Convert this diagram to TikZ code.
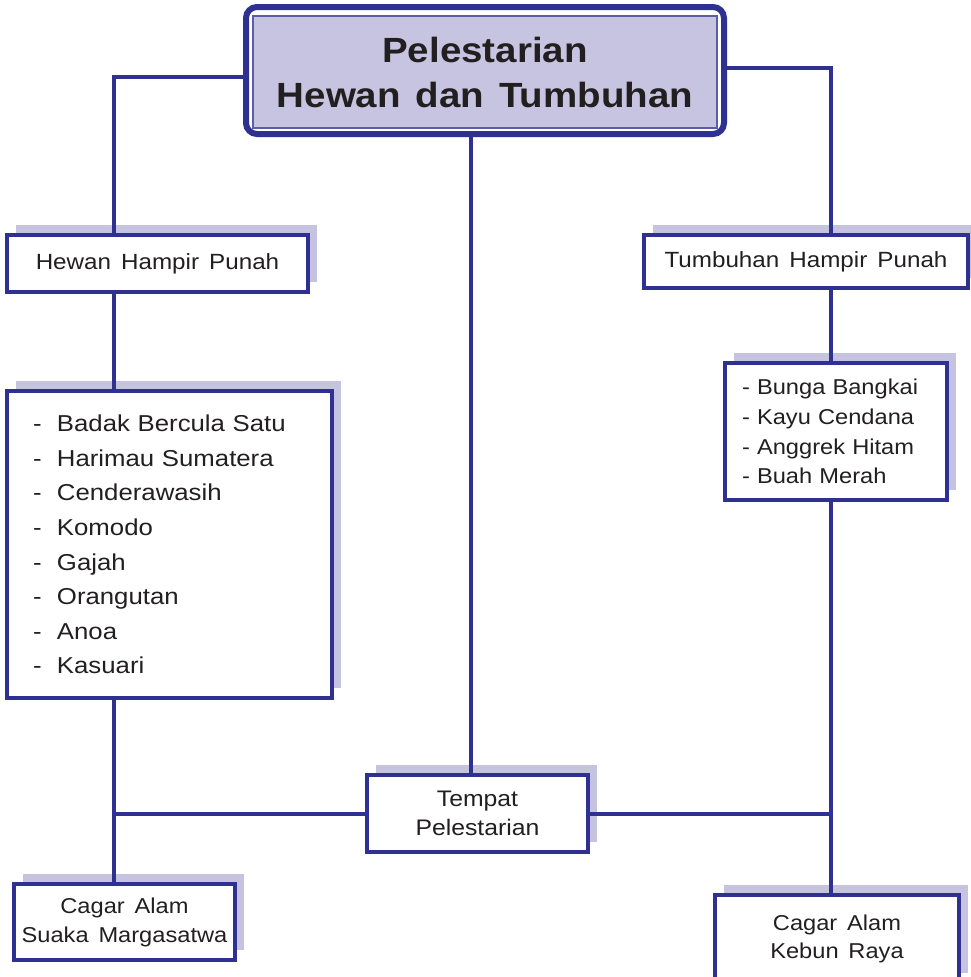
\documentclass[tikz,border=0pt]{standalone}
\usepackage{fontspec}
\setmainfont{Liberation Sans}
\newfontfamily\bodyf[FakeStretch=1.1,WordSpace=1.5]{Liberation Sans}
\newfontfamily\listf[FakeStretch=1.12]{Liberation Sans}
\newfontfamily\titlef[FakeStretch=1.1,WordSpace=1.4]{Liberation Sans Bold}
\usetikzlibrary{shadows}
\definecolor{navy}{HTML}{2E3192}
\definecolor{shade}{HTML}{C5C3E0}
\definecolor{titlefill}{HTML}{C6C4E1}
\definecolor{innerline}{HTML}{5B5EA6}
\definecolor{ink}{HTML}{231F20}
\tikzset{
  box/.style={draw=navy, line width=3.5pt, fill=white, inner sep=0pt, text=ink,
    align=center,
    drop shadow={shadow xshift=9pt, shadow yshift=10pt, fill=shade, opacity=1}},
  conn/.style={draw=navy, line width=4pt},
  titleouter/.style={draw=navy, line width=6pt, fill=white, rounded corners=11pt, inner sep=0pt},
  titleinner/.style={draw=innerline, line width=1.3pt, fill=titlefill, inner sep=0pt, text=ink, align=center},
}
\begin{document}
\begin{tikzpicture}[x=1pt,y=-1pt]
\useasboundingbox (0,0) rectangle (970,977);
% title
\node[titleouter, minimum width=478pt, minimum height=127pt] (titlebox) at (485,70.5) {};
\node[titleinner, minimum width=464pt, minimum height=112pt,
      font=\titlef\fontsize{35}{45}\selectfont] (title) at (485,72)
      {Pelestarian\\Hewan dan Tumbuhan};
% guide x positions
\coordinate (L) at (114,0);
\coordinate (R) at (831,0);
\coordinate (M) at (471,0);
% boxes
\node[box, minimum width=301pt, minimum height=57pt, font=\bodyf\fontsize{22}{28}\selectfont]
  (hewan) at (157.5,263.5) {Hewan Hampir Punah};
\node[box, minimum width=324pt, minimum height=53pt, font=\bodyf\fontsize{22}{28}\selectfont]
  (tumb) at (806,261.5) {Tumbuhan Hampir Punah};
\node[box, minimum width=325pt, minimum height=307pt, text width=273pt, align=left,
      font=\listf\fontsize{23}{34.6}\selectfont]
  (list) at (169.5,544.5) {%
  \makebox[24pt][l]{-}Badak Bercula Satu\\
  \makebox[24pt][l]{-}Harimau Sumatera\\
  \makebox[24pt][l]{-}Cenderawasih\\
  \makebox[24pt][l]{-}Komodo\\
  \makebox[24pt][l]{-}Gajah\\
  \makebox[24pt][l]{-}Orangutan\\
  \makebox[24pt][l]{-}Anoa\\
  \makebox[24pt][l]{-}Kasuari};
\node[box, minimum width=222pt, minimum height=137pt, text width=188pt, align=left,
      font=\bodyf\fontsize{21.5}{29.7}\selectfont]
  (rlist) at (836,431.5) {- Bunga Bangkai\\- Kayu Cendana\\- Anggrek Hitam\\- Buah Merah};
\node[box, minimum width=221pt, minimum height=77pt, font=\bodyf\fontsize{22.5}{29}\selectfont]
  (tempat) at (477.5,813.5) {Tempat\\Pelestarian};
\node[box, minimum width=221pt, minimum height=76pt, font=\bodyf\fontsize{21.5}{29}\selectfont]
  (suaka) at (124.5,922) {Cagar Alam\\Suaka Margasatwa};
\node[box, minimum width=244pt, minimum height=88pt, font=\bodyf\fontsize{21.5}{28}\selectfont]
  (kebun) at (837,939) {Cagar Alam\\Kebun Raya};
% connectors
\draw[conn] ([yshift=-6pt]titlebox.west) -| (hewan.north -| L);
\draw[conn] ([yshift=3pt]titlebox.east) -| (tumb.north -| R);
\draw[conn] (titlebox.south -| M) -- (tempat.north -| M);
\draw[conn] (hewan.south -| L) -- (list.north -| L);
\draw[conn] (list.south -| L) -- (suaka.north -| L);
\draw[conn] (tempat.west) -- (tempat.west -| L);
\draw[conn] (tumb.south -| R) -- (rlist.north -| R);
\draw[conn] (rlist.south -| R) -- (kebun.north -| R);
\draw[conn] (tempat.east) -- (tempat.east -| R);
\end{tikzpicture}
\end{document}
